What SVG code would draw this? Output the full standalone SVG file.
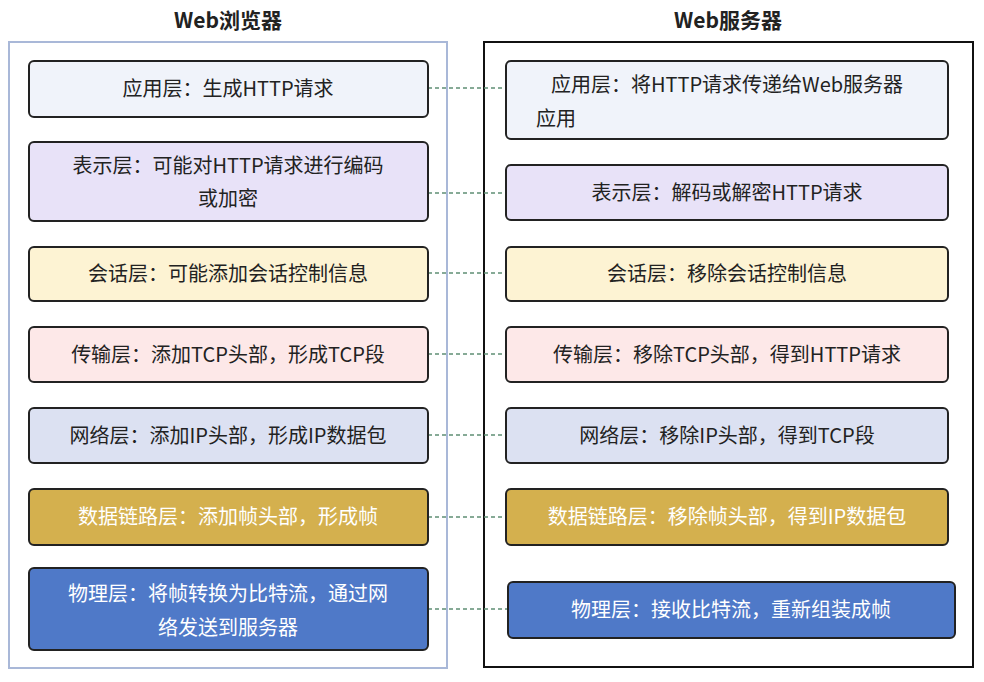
<svg xmlns="http://www.w3.org/2000/svg" width="984" height="682" viewBox="0 0 984 682">
<style>
text{font-family:"Noto Sans CJK SC","Noto Sans",sans-serif;font-size:20px;text-anchor:middle;fill:#222}
.t{font-size:21px;font-weight:bold}
.b{stroke:#222;stroke-width:2}
.w{fill:#fff}
.c{stroke:#5f8f74;stroke-width:1.5;stroke-dasharray:4 3;fill:none}
</style>
<rect width="984" height="682" fill="#fff"/>
<g id="browser">
<text class="t" x="228" y="28">Web浏览器</text>
<rect x="9" y="42" width="438" height="626" fill="#fff" stroke="#a9b8d8" stroke-width="2"/>
</g>
<g id="server">
<text class="t" x="728" y="28">Web服务器</text>
<rect x="484" y="42" width="489" height="625" fill="#fff" stroke="#111" stroke-width="2"/>
</g>
<g id="connectors">
<path class="c" d="M428 88H506M428 193H506M428 273H506M428 354H506M428 435H506M428 517H506M428 609H508"/>
</g>
<g id="b1"><rect class="b" x="29" y="61" width="399" height="56" rx="5" fill="#f0f3fa"/><text x="228" y="96">应用层：生成HTTP请求</text></g>
<g id="b2"><rect class="b" x="29" y="142" width="399" height="79" rx="5" fill="#e8e2f8"/><text x="228" y="173">表示层：可能对HTTP请求进行编码</text><text x="228" y="206">或加密</text></g>
<g id="b3"><rect class="b" x="29" y="247" width="399" height="54" rx="5" fill="#fdf3d3"/><text x="228" y="281">会话层：可能添加会话控制信息</text></g>
<g id="b4"><rect class="b" x="29" y="327" width="399" height="55" rx="5" fill="#fde8e8"/><text x="228" y="362">传输层：添加TCP头部，形成TCP段</text></g>
<g id="b5"><rect class="b" x="29" y="408" width="399" height="55" rx="5" fill="#dce1f2"/><text x="228" y="443">网络层：添加IP头部，形成IP数据包</text></g>
<g id="b6"><rect class="b" x="29" y="489" width="399" height="56" rx="5" fill="#d4b04e"/><text class="w" x="228" y="524">数据链路层：添加帧头部，形成帧</text></g>
<g id="b7"><rect class="b" x="29" y="568" width="399" height="82" rx="5" fill="#4f79c8"/><text class="w" x="228" y="601">物理层：将帧转换为比特流，通过网</text><text class="w" x="228" y="635">络发送到服务器</text></g>
<g id="s1"><rect class="b" x="506" y="61" width="442" height="78" rx="5" fill="#f0f3fa"/><text x="727" y="92">应用层：将HTTP请求传递给Web服务器</text><text x="556" y="126">应用</text></g>
<g id="s2"><rect class="b" x="506" y="165" width="442" height="55" rx="5" fill="#e8e2f8"/><text x="727" y="200">表示层：解码或解密HTTP请求</text></g>
<g id="s3"><rect class="b" x="506" y="247" width="442" height="54" rx="5" fill="#fdf3d3"/><text x="727" y="281">会话层：移除会话控制信息</text></g>
<g id="s4"><rect class="b" x="506" y="327" width="442" height="55" rx="5" fill="#fde8e8"/><text x="727" y="362">传输层：移除TCP头部，得到HTTP请求</text></g>
<g id="s5"><rect class="b" x="506" y="408" width="442" height="55" rx="5" fill="#dce1f2"/><text x="727" y="443">网络层：移除IP头部，得到TCP段</text></g>
<g id="s6"><rect class="b" x="506" y="489" width="442" height="56" rx="5" fill="#d4b04e"/><text class="w" x="727" y="524">数据链路层：移除帧头部，得到IP数据包</text></g>
<g id="s7"><rect class="b" x="508" y="582" width="447" height="56" rx="5" fill="#4f79c8"/><text class="w" x="731" y="617">物理层：接收比特流，重新组装成帧</text></g>
</svg>
